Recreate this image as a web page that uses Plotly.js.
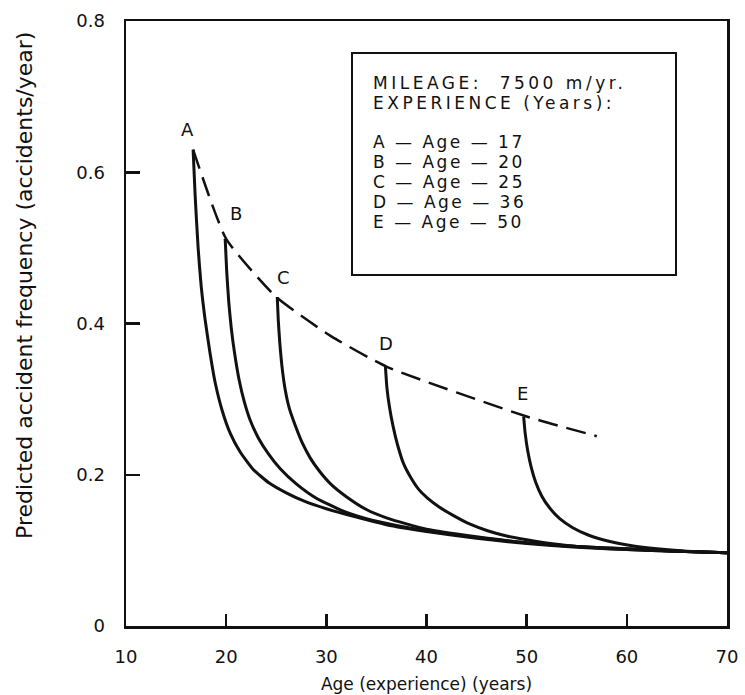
<!DOCTYPE html>
<html>
<head>
<meta charset="utf-8">
<script src="https://cdn.plot.ly/plotly-3.0.1.min.js"></script>
<style>
  html, body { margin: 0; padding: 0; background: #ffffff; }
  #chart { width: 745px; height: 695px; }
</style>
</head>
<body>
<div id="chart"></div>
<script>
// ---------------- DATA ----------------
const curveLabels = ['A', 'B', 'C', 'D', 'E'];
const startAges = [17, 20, 25, 36, 50];

const curveAX = [16.7, 16.9, 17.2, 17.5, 17.9, 18.4, 18.9, 19.6, 20.4, 21.4, 22.7, 24.3, 26, 27.8, 30, 33, 36, 40, 45, 50, 55, 60, 65, 70];
const curveAY = [0.630, 0.570, 0.500, 0.450, 0.405, 0.360, 0.322, 0.285, 0.255, 0.230, 0.207, 0.189, 0.176, 0.165, 0.155, 0.144, 0.134, 0.125, 0.116, 0.109, 0.104, 0.101, 0.099, 0.097];

const curveBX = [19.9, 20.05, 20.25, 20.5, 20.85, 21.3, 21.8, 22.4, 23.2, 24.2, 25.4, 27, 29, 31.5, 34, 37, 40, 45, 50, 55, 60, 65, 70];
const curveBY = [0.512, 0.470, 0.430, 0.395, 0.360, 0.325, 0.297, 0.272, 0.249, 0.228, 0.208, 0.188, 0.169, 0.153, 0.142, 0.133, 0.126, 0.117, 0.110, 0.105, 0.102, 0.099, 0.097];

const curveCX = [25.1, 25.2, 25.35, 25.6, 25.9, 26.3, 26.9, 27.6, 28.4, 29.3, 30.5, 32, 34, 36, 38, 40, 45, 50, 55, 60, 65, 70];
const curveCY = [0.435, 0.405, 0.375, 0.340, 0.312, 0.288, 0.265, 0.242, 0.222, 0.205, 0.187, 0.171, 0.154, 0.143, 0.135, 0.128, 0.118, 0.110, 0.105, 0.102, 0.099, 0.097];

const curveDX = [35.9, 36.05, 36.3, 36.65, 37.1, 37.7, 38.4, 39.2, 40.1, 41.3, 42.7, 44.3, 46.1, 48, 50, 53, 56, 60, 65, 70];
const curveDY = [0.343, 0.315, 0.290, 0.265, 0.240, 0.215, 0.197, 0.181, 0.169, 0.157, 0.146, 0.135, 0.126, 0.119, 0.114, 0.108, 0.104, 0.101, 0.099, 0.097];

const curveEX = [49.7, 49.85, 50.1, 50.45, 50.9, 51.5, 52.3, 53.3, 54.6, 56.2, 58.2, 60.5, 63, 66, 70];
const curveEY = [0.277, 0.255, 0.232, 0.210, 0.190, 0.172, 0.156, 0.142, 0.130, 0.120, 0.112, 0.106, 0.102, 0.099, 0.097];

const envelopeX = [16.7, 20, 25, 30.5, 36, 50, 57];
const envelopeY = [0.630, 0.512, 0.435, 0.383, 0.343, 0.277, 0.251];

const xTickVals = [10, 20, 30, 40, 50, 60, 70];
const xTickText = ['10', '20', '30', '40', '50', '60', '70'];
const yTickVals = [0, 0.2, 0.4, 0.6, 0.8];
const yTickText = ['0', '0.2', '0.4', '0.6', '0.8'];

const legendHeader1 = 'MILEAGE:\u00a0 7500 m/yr.';
const legendHeader2 = 'EXPERIENCE (Years):';
const xTitle = 'Age (experience) (years)';
const yTitle = 'Predicted accident frequency (accidents/year)';

// ---------------- LAYOUT HELPERS ----------------
const FONT = 'DejaVu Sans, Arial, sans-serif';
const INK = '#111111';
const curvesX = [curveAX, curveBX, curveCX, curveDX, curveEX];
const curvesY = [curveAY, curveBY, curveCY, curveDY, curveEY];

const traces = curvesX.map((xs, i) => ({
  type: 'scatter', mode: 'lines', name: curveLabels[i],
  x: xs, y: curvesY[i],
  line: { color: INK, width: 3, shape: 'spline', smoothing: 0.5 },
  hoverinfo: 'skip', showlegend: false
}));
traces.push({
  type: 'scatter', mode: 'lines', name: 'envelope',
  x: envelopeX, y: envelopeY,
  line: { color: INK, width: 2.5, dash: '20px,9px', shape: 'spline', smoothing: 0.5 },
  hoverinfo: 'skip', showlegend: false
});

// plot area in pixels: left 126, right 727, top 21, bottom 626
const M = { l: 126, r: 18, t: 21, b: 69 };
const PW = 745 - M.l - M.r, PH = 695 - M.t - M.b;
const px2paperX = px => (px - M.l) / PW;
const px2paperY = py => (M.t + PH - py) / PH;

const labelShiftX = [-6, 11, 6, 1, -1];
const labelShiftY = [20, 25, 20, 23, 23];

const annotations = [];
curveLabels.forEach((lab, i) => {
  annotations.push({
    x: curvesX[i][0], y: curvesY[i][0], xref: 'x', yref: 'y',
    text: lab, showarrow: false, xanchor: 'center', yanchor: 'middle',
    xshift: labelShiftX[i], yshift: labelShiftY[i],
    font: { family: FONT, size: 18, color: INK }
  });
});

const legendRows = [legendHeader1, legendHeader2].concat(
  curveLabels.map((lab, i) => lab + ' \u2014 Age \u2014 ' + startAges[i])
);
const legendRowPx = [83, 103, 142, 162, 182, 202, 222];
const legendTracking = [3.5, 3.5, 2.5, 2.5, 2.5, 2.5, 2.5];
const legendStart = annotations.length;
legendRows.forEach((txt, i) => {
  annotations.push({
    x: px2paperX(371), y: px2paperY(legendRowPx[i]), xref: 'paper', yref: 'paper',
    text: txt, showarrow: false, xanchor: 'left', yanchor: 'middle', align: 'left',
    font: { family: FONT, size: 17, color: INK }
  });
});
const legendEnd = annotations.length;

annotations.push({
  x: px2paperX(24), y: px2paperY(286), xref: 'paper', yref: 'paper',
  text: yTitle, textangle: -90, showarrow: false, xanchor: 'center', yanchor: 'middle',
  font: { family: FONT, size: 22, color: INK }
});

const layout = {
  width: 745, height: 695,
  margin: M,
  paper_bgcolor: '#ffffff', plot_bgcolor: '#ffffff',
  font: { family: FONT, size: 18, color: INK },
  showlegend: false,
  xaxis: {
    range: [10, 70], tickvals: xTickVals, ticktext: xTickText,
    showgrid: false, zeroline: false,
    showline: true, linecolor: INK, linewidth: 2.5, mirror: true,
    ticks: 'inside', ticklen: 12, tickwidth: 2.5, tickcolor: INK,
    ticklabelstandoff: 13,
    tickfont: { family: FONT, size: 18, color: INK },
    title: { text: xTitle, font: { family: FONT, size: 17, color: INK }, standoff: 12 },
    fixedrange: true
  },
  yaxis: {
    range: [0, 0.8], tickvals: yTickVals, ticktext: yTickText,
    showgrid: false, zeroline: false,
    showline: true, linecolor: INK, linewidth: 2.5, mirror: true,
    ticks: 'inside', ticklen: 14, tickwidth: 2.5, tickcolor: INK,
    ticklabelstandoff: 15,
    tickfont: { family: FONT, size: 18, color: INK },
    fixedrange: true
  },
  shapes: [{
    type: 'rect', xref: 'paper', yref: 'paper',
    x0: px2paperX(352), x1: px2paperX(676), y0: px2paperY(275), y1: px2paperY(53),
    line: { color: INK, width: 2 }, fillcolor: 'rgba(0,0,0,0)'
  }],
  annotations: annotations
};

Plotly.newPlot('chart', traces, layout, { displayModeBar: false, staticPlot: true }).then(gd => {
  // widen the legend lettering like the original typeset box
  gd.querySelectorAll('g.annotation').forEach(g => {
    const idx = +g.getAttribute('data-index');
    if (idx >= legendStart && idx < legendEnd) {
      const t = g.querySelector('text');
      if (t) t.style.letterSpacing = legendTracking[idx - legendStart] + 'px';
    }
  });
});
</script>
</body>
</html>
